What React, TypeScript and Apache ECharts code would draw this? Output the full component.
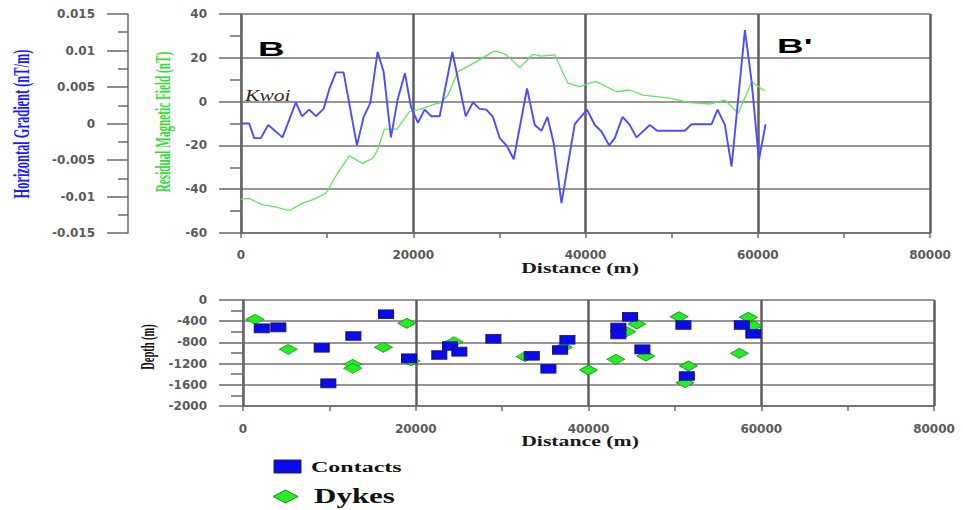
import React, { useEffect, useRef } from "react";
import * as echarts from "echarts";

// Top panel: horizontal gradient (nT/m) profile
const gradDist = [0, 950, 1530, 2300, 3160, 4820, 6370, 7070, 7930, 8690, 9590, 10250, 11020, 11910, 13460, 14240, 15010, 15860, 16560, 17410, 18190, 19030, 19730, 20550, 21320, 22100, 23070, 24540, 26090, 26940, 27710, 28490, 29260, 30040, 30820, 31670, 33210, 34110, 34880, 35580, 36310, 37210, 38750, 40180, 41080, 41860, 42740, 43400, 44300, 45140, 45920, 47470, 48320, 51530, 52310, 54640, 55330, 56180, 56960, 58510, 59290, 60130, 60910];
const gradVal = [0, 0, -0.002, -0.002, -0.0002, -0.0019, 0.0029, 0.001, 0.0019, 0.001, 0.002, 0.0047, 0.007, 0.007, -0.003, 0.0009, 0.0028, 0.0098, 0.0071, -0.0019, 0.0033, 0.0069, 0.0023, 0.0001, 0.0019, 0.001, 0.001, 0.0098, 0.001, 0.0029, 0.002, 0.0019, 0.0009, -0.002, -0.003, -0.0049, 0.0048, -0.0002, -0.001, 0.0009, -0.0027, -0.0109, -0.0001, 0.0019, -0.0002, -0.0011, -0.003, -0.002, 0.0009, -0.0002, -0.0019, -0.0002, -0.001, -0.001, -0.0001, -0.0001, 0.0019, -0.0002, -0.0059, 0.0128, 0.0057, -0.005, -0.0001];

// Top panel: residual magnetic field (nT) profile
const fieldDist = [0, 950, 2500, 3860, 5600, 7340, 8310, 9850, 11210, 12570, 14120, 15280, 15860, 16640, 18100, 19550, 20740, 22490, 23260, 24030, 25190, 27130, 29260, 29840, 30820, 32360, 33910, 34880, 36430, 37970, 39330, 40500, 41270, 43600, 45140, 46690, 49410, 52120, 54440, 56180, 57730, 59290, 60830];
const fieldVal = [-44.5, -44.2, -47.2, -48, -49.8, -46, -44.9, -41.9, -32.7, -24.8, -28.2, -25.9, -22.1, -12.6, -12.6, -4.6, -3.5, -1.2, -0.5, 3, 13.7, 17.8, 22.8, 22.8, 21.3, 15.5, 21.6, 20.8, 21.3, 8.4, 6.8, 8.4, 9.1, 4.5, 5.3, 3, 1.8, -0.5, -1.1, 0.7, -5.3, 9.1, 4.8];

// Bottom panel: depth solutions
const contactDist = [2170, 4090, 9110, 9880, 12780, 16560, 19220, 22730, 23970, 25050, 28990, 33430, 35360, 36710, 37560, 43460, 43460, 44810, 46240, 50990, 51380, 57750, 59090];
const contactDepth = [-535, -516, -900, -1572, -679, -270, -1101, -1038, -868, -975, -730, -1051, -1296, -943, -749, -522, -648, -315, -931, -472, -1434, -472, -636];
const dykeDist = [1390, 5250, 12700, 12700, 16250, 18960, 19450, 24430, 32660, 37090, 39990, 43160, 44430, 45590, 46630, 50490, 51570, 51180, 57470, 58510, 59090];
const dykeDepth = [-365, -931, -1214, -1290, -893, -440, -1150, -786, -1069, -893, -1321, -1120, -598, -453, -1057, -315, -1245, -1560, -1006, -326, -485];

const lbl = { fontFamily: "DejaVu Sans", fontWeight: "bold", fontSize: 12, color: "#5a5a5a" };
const plain = (v: number) => String(+v.toFixed(4));
const axLine = { show: true, onZero: false, lineStyle: { color: "#6a6a6a", width: 1.5 } };
const tickStyle = { color: "#6a6a6a", width: 1.5 };
const vSplit = { show: true, lineStyle: { color: "#5e5e5e", width: 2.5 } };
const hSplit = { show: true, lineStyle: { color: "#747474", width: 1.5 } };

export default function App() {
  const ref = useRef<HTMLDivElement>(null);
  useEffect(() => {
    if (!ref.current) return;
    const chart = echarts.init(ref.current, null, { renderer: "svg" });
    const serif = '"Liberation Serif", "Times New Roman", serif';
    const mid = { align: "center", verticalAlign: "middle", textAlign: "center", textVerticalAlign: "middle" };
    const leftMid = { align: "left", verticalAlign: "middle", textAlign: "left", textVerticalAlign: "middle" };
    const option: any = {
      animation: false,
      backgroundColor: "#ffffff",
      grid: [
        { left: 241, top: 14, width: 689, height: 219, outerBoundsMode: "none", containLabel: false },
        { left: 243, top: 300, width: 691, height: 106, outerBoundsMode: "none", containLabel: false },
      ],
      xAxis: [
        {
          gridIndex: 0, type: "value", min: 0, max: 80000, interval: 20000,
          axisLine: axLine,
          axisTick: { show: true, length: 5, lineStyle: tickStyle },
          minorTick: { show: true, splitNumber: 2, length: 5, lineStyle: tickStyle },
          axisLabel: { ...lbl, margin: 16, formatter: plain },
          splitLine: vSplit,
        },
        {
          gridIndex: 1, type: "value", min: 0, max: 80000, interval: 20000,
          axisLine: axLine,
          axisTick: { show: true, length: 5, lineStyle: tickStyle },
          minorTick: { show: true, splitNumber: 2, length: 5, lineStyle: tickStyle },
          axisLabel: { ...lbl, margin: 17, formatter: plain },
          splitLine: vSplit,
        },
      ],
      yAxis: [
        {
          gridIndex: 0, type: "value", min: -60, max: 40, interval: 20, position: "left",
          axisLine: axLine,
          axisTick: { show: true, length: 22, lineStyle: tickStyle },
          minorTick: { show: true, splitNumber: 2, length: 11, lineStyle: tickStyle },
          axisLabel: { ...lbl, margin: 34, formatter: plain },
          splitLine: hSplit,
        },
        {
          gridIndex: 0, type: "value", min: -0.015, max: 0.015, interval: 0.005, position: "left", offset: 113,
          axisLine: axLine,
          axisTick: { show: true, length: 21, lineStyle: tickStyle },
          minorTick: { show: true, splitNumber: 2, length: 10, lineStyle: tickStyle },
          axisLabel: { ...lbl, margin: 33, formatter: plain },
          splitLine: { show: false },
        },
        {
          gridIndex: 1, type: "value", min: -2000, max: 0, interval: 400, position: "left",
          axisLine: axLine,
          axisTick: { show: true, length: 24, lineStyle: tickStyle },
          minorTick: { show: true, splitNumber: 2, length: 12, lineStyle: tickStyle },
          axisLabel: { ...lbl, margin: 36, formatter: plain },
          splitLine: hSplit,
        },
      ],
      series: [
        {
          name: "Residual Magnetic Field", type: "line", xAxisIndex: 0, yAxisIndex: 0,
          data: fieldDist.map((d, i) => [d, fieldVal[i]]),
          symbol: "none", lineStyle: { color: "#5eea5e", width: 1.3 },
        },
        {
          name: "Horizontal Gradient", type: "line", xAxisIndex: 0, yAxisIndex: 1,
          data: gradDist.map((d, i) => [d, gradVal[i]]),
          symbol: "none", lineStyle: { color: "#4d4dff", width: 1.9 },
        },
        {
          name: "Dykes", type: "scatter", xAxisIndex: 1, yAxisIndex: 2,
          data: dykeDist.map((d, i) => [d, dykeDepth[i]]),
          symbol: "diamond", symbolSize: [18, 10],
          itemStyle: { color: "#22ee22", borderColor: "#1d8a1d", borderWidth: 0.8, opacity: 1 },
        },
        {
          name: "Contacts", type: "scatter", xAxisIndex: 1, yAxisIndex: 2,
          data: contactDist.map((d, i) => [d, contactDepth[i]]),
          symbol: "rect", symbolSize: [15, 9],
          itemStyle: { color: "#0a0aee", borderColor: "#151550", borderWidth: 0.8, opacity: 1 },
        },
      ],
      graphic: [
        {
          type: "text", x: 22, y: 124, rotation: Math.PI / 2, scaleX: 0.54,
          style: { text: "Horizontal Gradient (nT/m)", fill: "#1a1aff", font: `bold 23px ${serif}`, ...mid },
        },
        {
          type: "text", x: 163, y: 122, rotation: Math.PI / 2, scaleX: 0.535,
          style: { text: "Residual Magnetic Field (nT)", fill: "#33dd33", font: `bold 21px ${serif}`, ...mid },
        },
        {
          type: "text", x: 148, y: 347, rotation: Math.PI / 2, scaleX: 0.58,
          style: { text: "Depth (m)", fill: "#111111", font: `bold 18px ${serif}`, ...mid },
        },
        {
          type: "text", x: 580, y: 268, scaleX: 1.45,
          style: { text: "Distance (m)", fill: "#1a1a1a", font: `bold 15px ${serif}`, ...mid },
        },
        {
          type: "text", x: 580, y: 441, scaleX: 1.45,
          style: { text: "Distance (m)", fill: "#1a1a1a", font: `bold 15px ${serif}`, ...mid },
        },
        {
          type: "text", x: 258, y: 49, scaleX: 1.85,
          style: { text: "B", fill: "#000000", font: 'bold 20px "Liberation Sans", Arial, sans-serif', ...leftMid },
        },
        {
          type: "text", x: 777, y: 46, scaleX: 1.85,
          style: { text: "B'", fill: "#000000", font: 'bold 20px "Liberation Sans", Arial, sans-serif', ...leftMid },
        },
        {
          type: "text", x: 245, y: 96, scaleX: 1.35,
          style: { text: "Kwoi", fill: "#3a2812", font: `italic 16px ${serif}`, ...leftMid },
        },
        {
          type: "rect", shape: { x: 274, y: 460, width: 27, height: 13 },
          style: { fill: "#0a0aee", stroke: "#222244", lineWidth: 1 },
        },
        {
          type: "polygon", shape: { points: [[273, 496.5], [285.5, 490], [298, 496.5], [285.5, 503]] },
          style: { fill: "#22ee22", stroke: "#1d8a1d", lineWidth: 1 },
        },
        {
          type: "text", x: 311, y: 467, scaleX: 1.6,
          style: { text: "Contacts", fill: "#111111", font: `bold 15px ${serif}`, ...leftMid },
        },
        {
          type: "text", x: 314, y: 496, scaleX: 1.55,
          style: { text: "Dykes", fill: "#111111", font: `bold 20px ${serif}`, ...leftMid },
        },
      ],
    };
    chart.setOption(option);
    return () => chart.dispose();
  }, []);
  return <div ref={ref} style={{ position: "fixed", left: 0, top: 0, width: 963, height: 510, background: "#fff" }} />;
}
